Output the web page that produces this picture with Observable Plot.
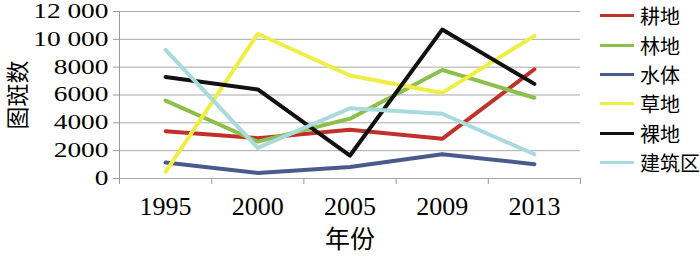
<!DOCTYPE html>
<html><head><meta charset="utf-8">
<script src="https://cdn.jsdelivr.net/npm/d3@7"></script>
<script src="https://cdn.jsdelivr.net/npm/@observablehq/plot@0.6"></script>
<style>
body{margin:0;background:#fff}
#wrap{position:relative;width:700px;height:256px;background:#fff}
#legend{position:absolute;left:600px;top:1px;font-family:"Noto Sans CJK SC";font-size:20px;color:#000}
.item{display:flex;align-items:center;height:29.4px;white-space:nowrap}
.sw{width:34px;height:3px;margin-right:6px}
</style></head><body>
<div id="wrap"><div id="chart"></div><div id="legend"></div></div>
<script>
const years = ["1995", "2000", "2005", "2009", "2013"];
const seriesNames = ["耕地", "林地", "水体", "草地", "裸地", "建筑区"];
const cultivated = [3400, 2900, 3500, 2850, 7850];
const forest = [5600, 2650, 4300, 7800, 5800];
const water = [1150, 400, 830, 1740, 1030];
const grass = [480, 10400, 7400, 6150, 10250];
const bare = [7300, 6400, 1650, 10700, 6800];
const built = [9250, 2200, 5050, 4650, 1740];
const seriesColors = ["#c0312b", "#8cc04a", "#4a5a8c", "#eeee44", "#111111", "#a8dade"];
const yTicks = [0, 2000, 4000, 6000, 8000, 10000, 12000];
const yTickLabels = ["0", "2000", "4000", "6000", "8000", "10 000", "12 000"];
const yLabel = "图斑数";
const xLabel = "年份";

const seriesValues = [cultivated, forest, water, grass, bare, built];
const rows = [];
seriesNames.forEach((name, s) => years.forEach((yr, i) => rows.push({name, idx: i, value: seriesValues[s][i]})));
const idx = years.map((_, i) => i);
const bounds = [-0.5, ...idx.map(i => i + 0.5)];

const chart = Plot.plot({
  width: 700, height: 256,
  marginLeft: 119, marginRight: 120, marginTop: 11, marginBottom: 78,
  style: {fontFamily: "Liberation Serif", background: "transparent", color: "#000", overflow: "visible"},
  x: {type: "linear", domain: [-0.5, years.length - 0.5], label: null},
  y: {domain: [0, 12000], label: null},
  color: {domain: seriesNames, range: seriesColors},
  marks: [
    Plot.ruleY(yTicks, {stroke: "#a9a9a9", strokeWidth: 1}),
    Plot.ruleX([-0.5], {stroke: "#999"}),
    Plot.axisY({ticks: yTicks, tickFormat: d => yTickLabels[yTicks.indexOf(d)], tickSize: 6, tickPadding: 5, fontSize: 20, stroke: "#999", fill: "#000"}),
    Plot.axisX({ticks: bounds, tickFormat: () => "", tickSize: 6, stroke: "#999"}),
    Plot.axisX({ticks: idx, tickFormat: i => years[i], tickSize: 0, tickPadding: 18, fontSize: 26, fill: "#000"}),
    Plot.line(rows, {x: "idx", y: "value", z: "name", stroke: "name", strokeWidth: 4}),
    Plot.text([yLabel], {text: d => d, frameAnchor: "left", textAnchor: "middle", lineAnchor: "middle", rotate: -90, dx: -101, fontSize: 23, fontFamily: "Noto Sans CJK SC", fill: "#000"}),
    Plot.text([xLabel], {text: d => d, frameAnchor: "bottom", textAnchor: "middle", lineAnchor: "middle", dy: 61, fontSize: 25, fontFamily: "Noto Sans CJK SC", fill: "#000"})
  ]
});

chart.querySelectorAll('g[aria-label="y-axis tick label"] text').forEach(t => {
  const tr = t.getAttribute("transform");
  if (tr) t.setAttribute("transform", tr + " scale(1.37,1)");
  else {
    const x = t.getAttribute("x") || 0, y = t.getAttribute("y") || 0;
    t.removeAttribute("x"); t.removeAttribute("y");
    t.setAttribute("transform", `translate(${x},${y}) scale(1.37,1)`);
  }
});
document.getElementById("chart").appendChild(chart);

const legend = document.getElementById("legend");
seriesNames.forEach((name, i) => {
  const item = document.createElement("div");
  item.className = "item";
  const sw = document.createElement("span");
  sw.className = "sw";
  sw.style.background = seriesColors[i];
  const label = document.createElement("span");
  label.textContent = name;
  item.appendChild(sw); item.appendChild(label);
  legend.appendChild(item);
});
</script>
</body></html>
